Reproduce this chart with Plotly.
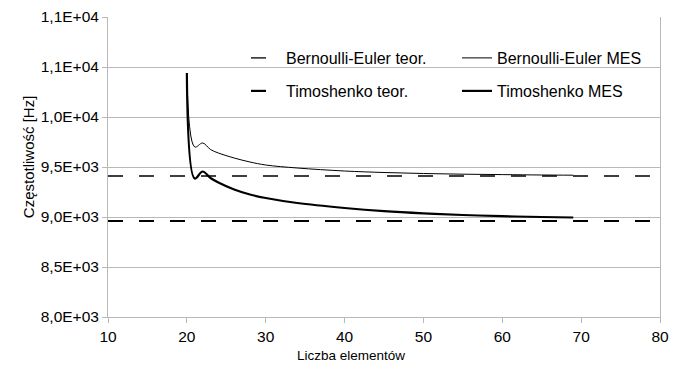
import plotly.graph_objects as go

# Data
theory_x = [10, 80]
be_theory = [9410, 9410]
timo_theory = [8960, 8960]

elements = [20, 21, 22, 23, 24, 26, 28, 30, 34, 40, 45, 50, 55, 60, 65, 69]
be_mes = [10440, 9700, 9740, 9675, 9640, 9590, 9550, 9520, 9490, 9460, 9445, 9435, 9428, 9424, 9420, 9418]
timo_mes = [10440, 9385, 9455, 9390, 9345, 9275, 9225, 9190, 9140, 9090, 9058, 9036, 9020, 9008, 9000, 8995]

y_tickvals = [8000, 8500, 9000, 9500, 10000, 10500, 11000]
y_ticktext = ["8,0E+03", "8,5E+03", "9,0E+03", "9,5E+03", "1,0E+04", "1,1E+04", "1,1E+04"]
x_tickvals = [10, 20, 30, 40, 50, 60, 70, 80]

FONT = "Liberation Sans, Arial, sans-serif"
GRID = "#b8b8b8"
TICK_SIZE = 15.5

fig = go.Figure()
fig.add_trace(go.Scatter(x=theory_x, y=be_theory, mode="lines", name="Bernoulli-Euler teor.",
                         line=dict(color="black", width=1.3, dash="15px,16px"), legend="legend"))
fig.add_trace(go.Scatter(x=elements, y=be_mes, mode="lines", name="Bernoulli-Euler MES",
                         line=dict(color="black", width=1, shape="spline"), legend="legend"))
fig.add_trace(go.Scatter(x=theory_x, y=timo_theory, mode="lines", name="Timoshenko teor.",
                         line=dict(color="black", width=2.2, dash="15px,16px"), legend="legend2"))
fig.add_trace(go.Scatter(x=elements, y=timo_mes, mode="lines", name="Timoshenko MES",
                         line=dict(color="black", width=2.2, shape="spline"), legend="legend2"))

legend_common = dict(orientation="h", xref="paper", yref="paper", xanchor="left", yanchor="middle",
                     bgcolor="rgba(0,0,0,0)", font=dict(family=FONT, size=16, color="black"),
                     entrywidth=166, entrywidthmode="pixels", itemwidth=30)

fig.update_layout(
    width=676, height=370,
    margin=dict(l=108, r=8, t=17, b=53),
    paper_bgcolor="white", plot_bgcolor="white",
    font=dict(family=FONT, size=TICK_SIZE, color="black"),
    showlegend=True,
    legend=dict(x=0.25, y=(317 - 58) / 300, **legend_common),
    legend2=dict(x=0.25, y=(317 - 91) / 300, **legend_common),
    xaxis=dict(range=[10, 80], tickvals=x_tickvals, showgrid=False, zeroline=False,
               showline=True, linecolor=GRID, linewidth=1, ticks="outside", ticklen=5,
               tickcolor=GRID, tickfont=dict(family=FONT, size=TICK_SIZE, color="black")),
    yaxis=dict(range=[8000, 11000], tickvals=y_tickvals, ticktext=y_ticktext,
               showgrid=True, gridcolor=GRID, gridwidth=1, zeroline=False,
               showline=True, linecolor=GRID, linewidth=1, mirror=True,
               ticks="outside", ticklen=5, tickcolor=GRID,
               tickfont=dict(family=FONT, size=TICK_SIZE, color="black")),
    annotations=[
        dict(text="Liczba elementów", xref="paper", yref="paper",
             x=(355 - 108) / 560, y=-(356 - 317) / 300, showarrow=False,
             xanchor="center", yanchor="middle", font=dict(family=FONT, size=13.5, color="black")),
        dict(text="Częstotliwość [Hz]", xref="paper", yref="paper", textangle=-90,
             x=-(108 - 27) / 560, y=(317 - 157) / 300, showarrow=False,
             xanchor="center", yanchor="middle", font=dict(family=FONT, size=15, color="black")),
    ],
)

fig.write_html("out.html")
